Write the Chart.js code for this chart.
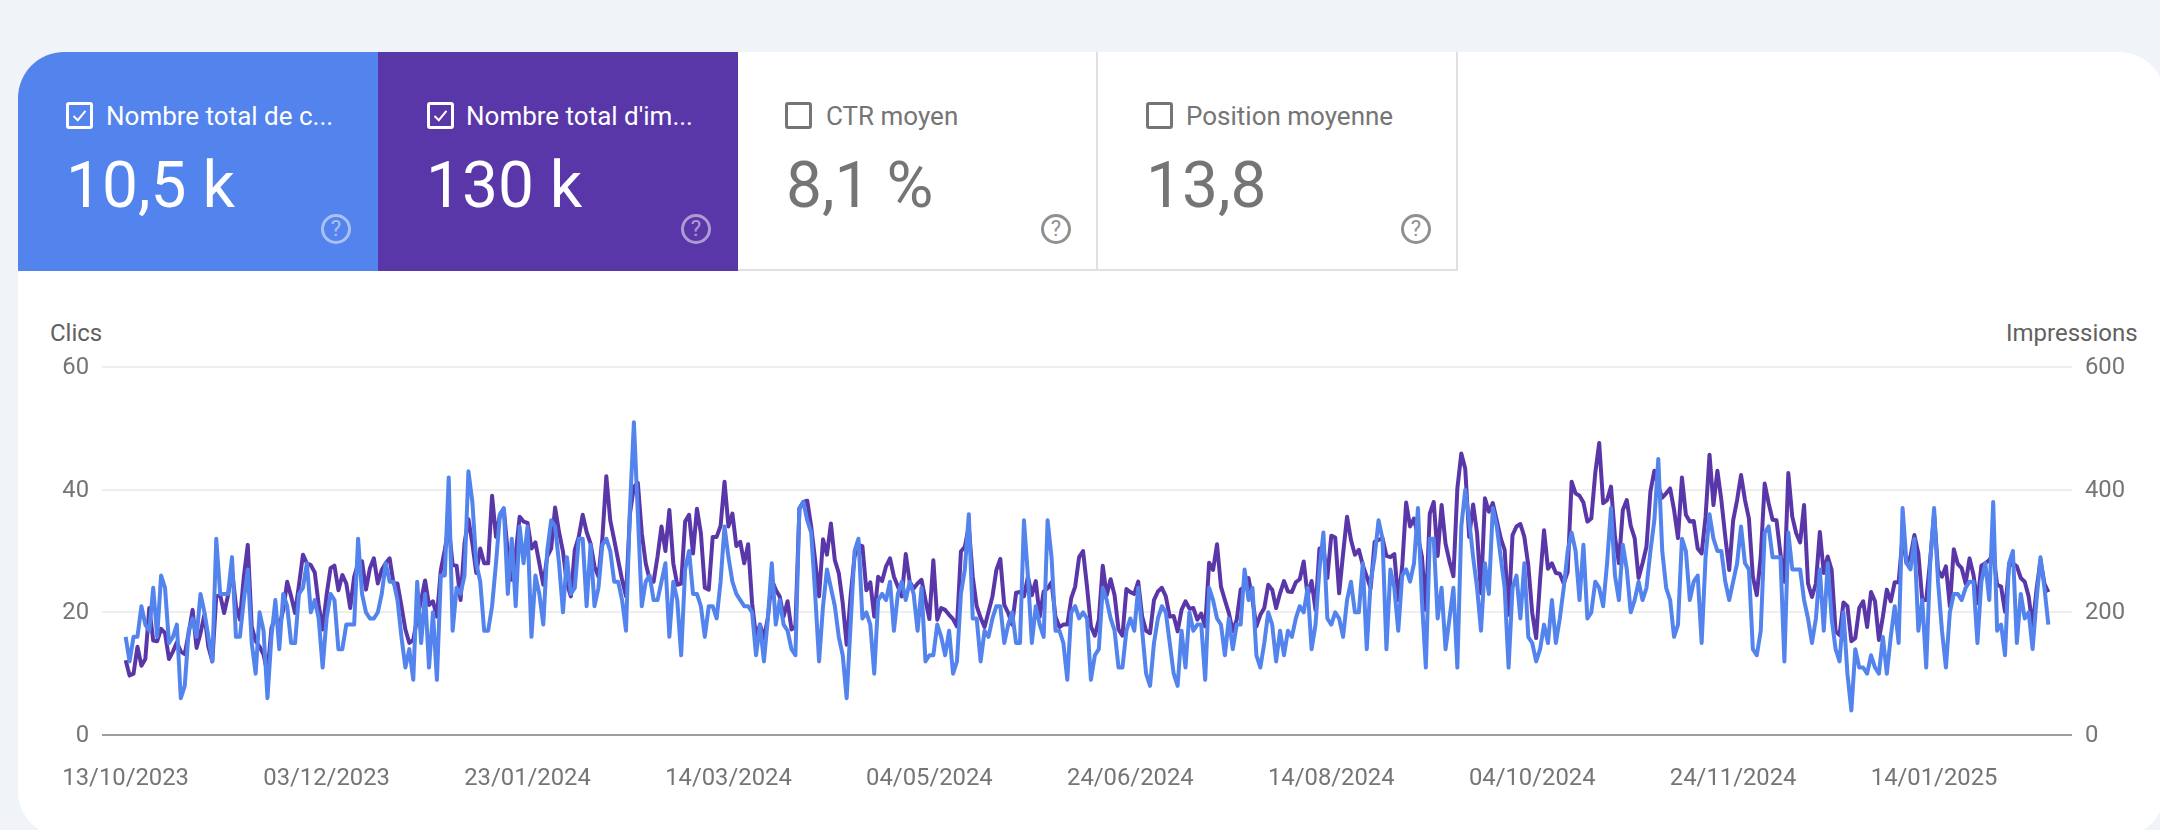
<!DOCTYPE html>
<html>
<head>
<meta charset="utf-8">
<script src="https://cdn.jsdelivr.net/npm/chart.js@4"></script>
<style>
  html, body { margin: 0; padding: 0; width: 2160px; height: 830px; overflow: hidden; background: #f0f4f9; font-family: Roboto, sans-serif; }
  #card { position: absolute; left: 18px; top: 52px; width: 2147px; height: 785px; background: #fff; border-radius: 46px; overflow: hidden; }
  .tile { position: absolute; top: 52px; height: 219px; width: 360px; box-sizing: border-box; color: #757575; }
  .tile.off { border-right: 2px solid #e0e0e0; border-bottom: 2px solid #e0e0e0; }
  .tile.on { color: #fff; }
  #t1 { left: 18px; width: 360px; background: #5383ec; border-top-left-radius: 46px; }
  #t2 { left: 378px; background: #5a37a8; }
  #t3 { left: 738px; }
  #t4 { left: 1098px; }
  .box { position: absolute; left: 48px; top: 50px; width: 27px; height: 27px; box-sizing: border-box; border: 3px solid currentColor; border-radius: 3px; }
  .box svg { position: absolute; left: 0; top: 0; }
  .name { position: absolute; left: 88px; top: 49px; font-size: 26px; line-height: 30px; white-space: nowrap; }
  .num { position: absolute; left: 48px; top: 97px; font-size: 64px; line-height: 74px; white-space: nowrap; }
  .help { position: absolute; left: 303px; top: 162px; width: 30px; height: 30px; box-sizing: border-box; border: 3px solid currentColor; border-radius: 50%; opacity: .5; font-size: 22px; line-height: 24px; text-align: center; }
  .off .help { opacity: .8; }
  .axis-name { position: absolute; top: 319px; font-size: 24px; line-height: 28px; color: #616161; }
  #chart { position: absolute; left: 0; top: 0; }
</style>
</head>
<body>
<div id="card"></div>
<div class="tile on" id="t1">
  <div class="box"><svg width="21" height="21" viewBox="0 0 21 21"><path d="M4.5 11 L8.8 15.2 L16.5 5.8" fill="none" stroke="#fff" stroke-width="2"/></svg></div>
  <div class="name">Nombre total de c...</div><div class="num">10,5 k</div><div class="help">?</div>
</div>
<div class="tile on" id="t2">
  <div class="box" style="left:49px"><svg width="21" height="21" viewBox="0 0 21 21"><path d="M4.5 11 L8.8 15.2 L16.5 5.8" fill="none" stroke="#fff" stroke-width="2"/></svg></div>
  <div class="name">Nombre total d'im...</div><div class="num">130 k</div><div class="help">?</div>
</div>
<div class="tile off" id="t3">
  <div class="box" style="left:47px"></div>
  <div class="name">CTR moyen</div><div class="num">8,1 %</div><div class="help">?</div>
</div>
<div class="tile off" id="t4">
  <div class="box"></div>
  <div class="name">Position moyenne</div><div class="num">13,8</div><div class="help">?</div>
</div>
<div class="axis-name" style="left:50px">Clics</div>
<div class="axis-name" style="left:2006px">Impressions</div>
<canvas id="chart" width="2160" height="830"></canvas>

<script>
var dateLabels = ['13/10/2023','03/12/2023','23/01/2024','14/03/2024','04/05/2024','24/06/2024','14/08/2024','04/10/2024','24/11/2024','14/01/2025'];
var daysPerLabel = 51;

var clicks = [
  16,12,16,16,21,18,17,24,16,26, 24,15,16,18,6,8,17,19,16,23,
  20,16,12,32,23,23,23,29,16,16, 22,27,15,10,20,17,6,16,22,14,
  23,21,15,15,23,24,28,20,22,19, 11,19,23,22,14,14,18,18,18,32,
  23,20,19,19,20,23,28,25,25,22, 16,11,14,9,25,15,23,11,20,9,
  26,26,42,17,24,23,26,43,38,28, 25,17,17,21,28,36,37,23,32,21,
  34,28,34,16,26,23,18,30,35,34, 28,20,29,23,24,32,32,21,31,21,
  24,31,32,30,25,25,22,17,37,51, 36,21,25,26,22,22,25,28,16,25,
  22,13,27,30,23,23,21,16,21,21, 19,25,34,29,25,23,22,21,21,20,
  13,18,12,19,28,18,22,18,17,14, 13,37,38,35,33,23,12,21,27,24,
  21,16,13,6,18,30,32,19,20,18, 10,22,23,22,25,17,23,25,22,25,
  23,17,24,12,13,13,18,16,13,17, 10,12,23,27,36,19,19,12,17,16,
  19,21,21,15,18,20,15,15,35,26, 15,21,18,16,35,29,17,17,15,9,
  20,21,19,20,19,9,13,14,24,22, 19,17,11,11,17,19,17,24,17,10,
  8,15,19,21,20,15,10,8,17,11, 20,17,18,18,9,24,22,19,18,13,
  19,14,18,18,27,22,24,13,11,15, 20,18,12,17,13,17,16,19,21,20,
  24,14,18,27,33,19,18,20,19,16, 22,25,20,20,28,14,25,29,35,32,
  14,27,24,17,26,27,25,28,37,22, 11,32,32,19,24,14,19,24,11,34,
  40,35,29,24,17,28,23,37,34,29, 24,11,24,26,19,28,16,15,12,14,
  18,15,22,15,19,24,30,33,30,22, 31,19,20,25,24,21,28,37,26,22,
  31,27,20,22,25,22,24,30,35,45, 30,24,22,16,18,32,30,22,25,26,
  15,29,36,32,30,30,25,22,25,28, 34,28,27,14,13,17,33,34,29,29,
  29,12,33,27,27,27,22,19,15,19, 27,17,28,19,14,12,20,10,4,14,
  11,11,10,13,11,10,16,10,16,21, 15,37,28,27,32,17,22,11,28,37,
  25,17,11,20,23,23,22,24,25,25, 15,25,28,22,38,17,18,13,28,30,
  15,23,19,20,14,22,29,24,18
];

var impressions = [
  122,97,100,144,113,124,207,154,153,173, 166,124,136,151,136,132,166,204,142,166,
  196,144,120,226,228,199,228,269,210,188, 258,310,177,153,144,131,101,174,193,177,
  204,250,226,199,245,294,280,277,265,212, 172,228,272,276,236,261,247,207,258,280,
  283,237,272,288,247,269,280,288,247,247, 210,172,150,155,190,220,252,212,218,193,
  269,302,340,277,276,220,312,352,312,264, 304,280,280,390,323,359,367,296,253,296,
  356,348,346,304,314,280,245,291,304,371, 331,299,247,226,302,323,359,331,312,275,
  258,321,422,350,318,285,253,226,361,405, 411,329,280,253,250,291,340,300,367,280,
  245,247,348,359,296,369,329,240,237,323, 323,341,413,340,361,308,315,280,311,215,
  160,180,158,191,253,237,226,193,218,172, 177,369,380,382,340,285,226,319,294,345,
  285,264,215,147,226,291,310,308,236,249, 193,258,251,275,288,258,242,226,295,250,
  239,247,253,220,189,285,188,207,204,196, 189,177,299,307,340,258,210,191,176,201,
  226,269,287,212,199,180,232,233,226,258, 228,251,193,234,239,249,193,176,180,180,
  223,242,290,300,242,177,162,188,276,228, 254,228,172,162,238,233,230,250,193,170,
  166,220,234,240,226,193,194,169,204,218, 206,207,188,198,177,281,269,311,242,220,
  199,169,188,237,242,256,220,177,196,207, 245,237,207,231,251,234,233,249,254,283,
  226,251,204,304,304,256,325,322,231,296, 356,318,294,302,277,258,239,315,318,321,
  292,290,295,220,275,379,340,353,323,291, 204,361,380,292,375,312,283,259,402,459,
  434,323,376,329,231,386,364,378,350,321, 302,196,326,340,344,323,277,199,158,253,
  334,271,280,264,263,247,266,413,394,390, 379,348,353,427,476,378,383,405,323,280,
  367,383,341,321,256,280,307,397,431,405, 387,394,402,367,321,420,359,348,349,304,
  296,356,457,375,431,383,323,269,350,383, 424,383,353,258,228,291,410,378,351,350,
  296,250,427,356,329,314,375,247,225,247, 331,264,291,269,169,163,216,210,153,158,
  207,218,176,233,218,155,193,237,218,249, 249,323,280,291,326,296,220,220,285,360,
  269,258,275,210,303,279,272,247,288,261, 215,276,280,285,296,245,242,201,275,280,
  275,256,250,226,177,237,285,247,233
];

function points(list) {
    return list.map(function(v, i) { return {x: i, y: v}; });
}

var tickFont = {family: 'Roboto', size: 23.8};
var ctx = document.getElementById('chart').getContext('2d');
var myChart = new Chart(ctx, {
    type: 'line',
    data: {
        datasets: [{
            label: 'Clics',
            data: points(clicks),
            yAxisID: 'y',
            borderColor: '#5383ec',
            borderWidth: 4,
            borderJoinStyle: 'round',
            pointRadius: 0,
            tension: 0
        }, {
            label: 'Impressions',
            data: points(impressions),
            yAxisID: 'y2',
            borderColor: '#5a37a8',
            borderWidth: 4,
            borderJoinStyle: 'round',
            pointRadius: 0,
            tension: 0
        }]
    },
    options: {
        responsive: false,
        animation: false,
        events: [],
        layout: {padding: {top: 367, left: 0, right: 0, bottom: 0}},
        plugins: {legend: {display: false}, tooltip: {enabled: false}},
        scales: {
            x: {
                type: 'linear',
                min: -6,
                max: 494,
                afterBuildTicks: function(s) {
                    s.ticks = dateLabels.map(function(d, i) { return {value: i * daysPerLabel}; });
                },
                afterFit: function(s) { s.height = 95; },
                grid: {display: false},
                border: {display: false},
                ticks: {
                    autoSkip: false,
                    maxRotation: 0,
                    padding: 22,
                    color: '#757575',
                    font: tickFont,
                    callback: function(v) { return dateLabels[v / daysPerLabel]; }
                }
            },
            y: {
                position: 'left',
                min: 0,
                max: 60,
                afterFit: function(s) { s.width = 102; },
                border: {display: false},
                grid: {
                    drawTicks: false,
                    lineWidth: 2,
                    color: function(c) { return c.tick.value === 0 ? '#9e9e9e' : '#eeeeee'; }
                },
                ticks: {stepSize: 20, padding: 13, labelOffset: 1, color: '#757575', font: tickFont}
            },
            y2: {
                position: 'right',
                min: 0,
                max: 600,
                afterFit: function(s) { s.width = 88; },
                border: {display: false},
                grid: {display: false, drawTicks: false},
                ticks: {stepSize: 200, padding: 13, labelOffset: 1, color: '#757575', font: tickFont}
            }
        }
    }
});
</script>
</body>
</html>
